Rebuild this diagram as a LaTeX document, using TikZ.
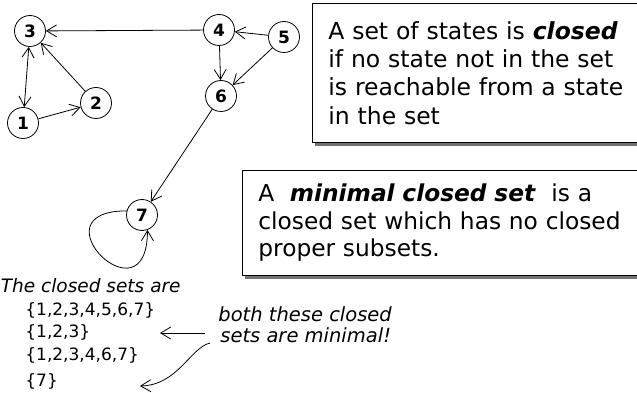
\documentclass[tikz,border=0pt]{standalone}
\usepackage{fontspec}
\setmainfont{DejaVu Sans}
\usetikzlibrary{arrows.meta, positioning, shadows}

\begin{document}
\begin{tikzpicture}[x=1pt, y=-1pt, line width=0.8pt,
  state/.style={circle, draw, fill=white, minimum size=31pt, inner sep=0pt,
    font=\fontsize{17}{17}\selectfont\bfseries},
  arr/.style={-{Straight Barb[length=10pt, width=12pt]}},
  biarr/.style={{Straight Barb[length=10pt, width=12pt]}-{Straight Barb[length=10pt, width=12pt]}},
  infobox/.style={draw, fill=white, anchor=north west, align=left, inner xsep=16pt,
    drop shadow={shadow xshift=3pt, shadow yshift=-4pt, fill=black!55, opacity=1}},
  note/.style={anchor=base west, inner sep=0pt, font=\fontsize{18.5}{18.5}\selectfont\itshape},
  setline/.style={anchor=base west, inner sep=0pt, font=\fontsize{17}{17}\selectfont}]
  \path[use as bounding box, clip] (0,0) rectangle (637,393);

  % states
  \node[state] (n3) at (30,31) {3};
  \node[state] (n1) at (23,123) {1};
  \node[state] (n2) at (96,103) {2};
  \node[state] (n4) at (219,30) {4};
  \node[state] (n5) at (284,37) {5};
  \node[state] (n6) at (221,96) {6};
  \node[state] (n7) at (142,215) {7};

  % transitions
  \draw[arr] (n4) -- (n3);
  \draw[arr] (n5) -- (n4);
  \draw[arr] (n5) -- (n6);
  \draw[arr] (n4) -- (n6);
  \draw[arr] (n6) -- (n7);
  \draw[arr] (n2) -- (n3);
  \draw[arr] (n1) -- (n2);
  \draw[biarr] (n1) -- (n3);
  \draw[arr] (n7.165) .. controls +(-95,0) and +(0,95) .. (n7.-70);

  % definitions
  \node[infobox, text width=306pt, minimum height=139pt,
    font=\fontsize{23.5}{28.3}\selectfont] (closedbox) at (312,3)
    {A set of states is \textbf{\textit{closed}}\\
     if no state not in the set\\
     is reachable from a state\\
     in the set};
  \node[infobox, text width=376pt, minimum height=105pt,
    font=\fontsize{23.3}{27.5}\selectfont] (minimalbox) at (242,170)
    {A \ \textbf{\textit{minimal closed set}} \ is a\\
     closed set which has no closed\\
     proper subsets.};

  % closed sets
  \node[note] (title) at (0.5,292) {The closed sets are};
  \node[setline] (setall) at (25,315) {\{1,2,3,4,5,6,7\}};
  \node[setline] (setA) at (25,337) {\{1,2,3\}};
  \node[setline] (setB) at (25,360) {\{1,2,3,4,6,7\}};
  \node[setline] (setC) at (25,386) {\{7\}};
  \node[note, font=\fontsize{19.5}{19.5}\selectfont\itshape] (both) at (218,321) {both these closed};
  \node[note, font=\fontsize{19.5}{19.5}\selectfont\itshape] (minimal) at (220,342) {sets are minimal!};

  \coordinate (fromA) at (205,333);
  \coordinate (toA) at (160,333);
  \coordinate (fromC) at (210,343);
  \coordinate (toC) at (140,386);
  \draw[arr] (fromA) -- (toA);
  \draw[arr] (fromC) .. controls (190,348) and (178,385) .. (toC);
\end{tikzpicture}
\end{document}
